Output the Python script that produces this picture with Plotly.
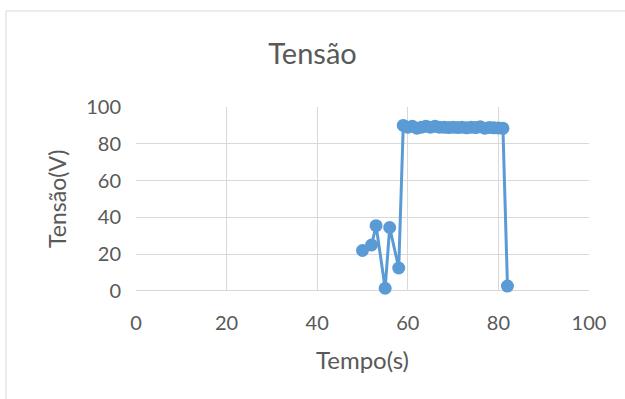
import plotly.graph_objects as go

tempo = [50, 52, 53, 55, 56, 58, 59, 60, 61, 62, 63, 64, 65, 66, 67, 68, 69, 70,
         71, 72, 73, 74, 75, 76, 77, 78, 79, 80, 81, 82]
tensao = [22, 25, 35.5, 1.5, 34.5, 12.5, 90, 89, 89.5, 88.5, 89, 89.5, 89, 89.5,
          89, 89, 88.8, 89, 88.8, 89, 88.7, 89, 88.8, 89.2, 88.5, 88.8, 88.7, 88.6, 88.4, 2.7]

x_ticks = [0, 20, 40, 60, 80, 100]
y_ticks = [0, 20, 40, 60, 80, 100]

FONT = "Lato, Open Sans, sans-serif"
GREY = "#595959"
BLUE = "#5B9BD5"

L, T, R, B = 136, 107, 36, 108
PW, PH = 625 - L - R, 399 - T - B


def px(xp):
    return (xp - L) / PW


def py(yp):
    return (399 - B - yp) / PH


fig = go.Figure()
fig.add_trace(go.Scatter(
    x=tempo, y=tensao, mode="lines+markers",
    line=dict(color=BLUE, width=3),
    marker=dict(color=BLUE, size=13),
    showlegend=False, cliponaxis=False,
))

fig.update_layout(
    width=625, height=399,
    margin=dict(l=L, r=R, t=T, b=B),
    paper_bgcolor="white", plot_bgcolor="white",
    font=dict(family=FONT, color=GREY, size=20),
    title=dict(text="Tensão", x=0.5, xanchor="center", y=1 - 54 / 399, yanchor="middle",
               font=dict(size=29, color=GREY, family=FONT)),
    xaxis=dict(range=[0, 100], tickvals=x_ticks, showgrid=True, gridcolor="#D9D9D9",
               gridwidth=1, zeroline=False, showline=False, ticks="",
               ticklabelstandoff=18, tickfont=dict(size=20, color=GREY)),
    yaxis=dict(range=[0, 100], tickvals=y_ticks, showgrid=True, gridcolor="#D9D9D9",
               gridwidth=1, zeroline=False, showline=False, ticks="",
               ticklabelstandoff=14, tickfont=dict(size=20, color=GREY)),
    annotations=[
        dict(text="Tempo(s)", xref="paper", yref="paper", x=px(362), y=py(359),
             xanchor="center", yanchor="middle", showarrow=False,
             font=dict(size=24, color=GREY, family=FONT)),
        dict(text="Tensão(V)", xref="paper", yref="paper", x=px(57), y=py(199),
             xanchor="center", yanchor="middle", showarrow=False, textangle=-90,
             font=dict(size=23, color=GREY, family=FONT)),
    ],
    shapes=[
        dict(type="line", xref="paper", yref="y", x0=0, x1=1, y0=0, y1=0,
             line=dict(color="#C8C8C8", width=1.5), layer="below"),
        dict(type="line", xref="paper", yref="paper", x0=px(6), x1=px(6),
             y0=py(11), y1=py(405), line=dict(color="#D9D9D9", width=1)),
        dict(type="line", xref="paper", yref="paper", x0=px(6), x1=px(630),
             y0=py(11), y1=py(11), line=dict(color="#D9D9D9", width=1)),
    ],
)

fig.write_html("out.html", config={"displayModeBar": False},
               post_script="document.body.style.margin='0px';")
